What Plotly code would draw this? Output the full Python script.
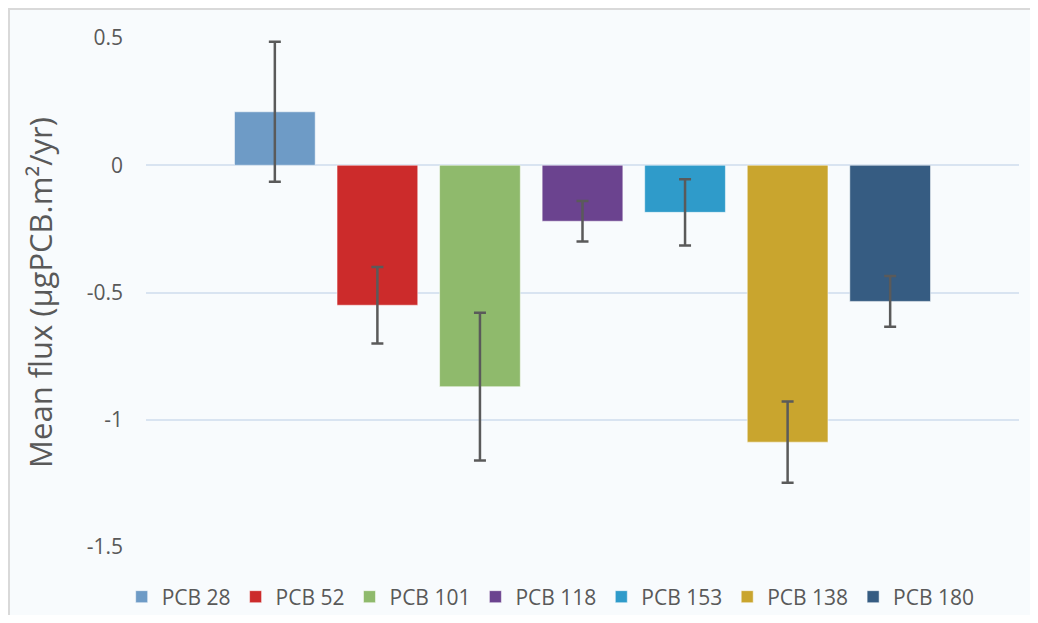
import plotly.graph_objects as go

# Data
series_names = ["PCB 28", "PCB 52", "PCB 101", "PCB 118", "PCB 153", "PCB 138", "PCB 180"]
mean_flux = [0.21, -0.55, -0.87, -0.22, -0.185, -1.088, -0.535]
error_vals = [0.275, 0.15, 0.29, 0.08, 0.13, 0.16, 0.10]
colors = ["#6e9bc6", "#cc2b2b", "#8fba6c", "#6b438f", "#2f9bca", "#c9a52e", "#365c82"]
category = [""]

y_ticks = [-1.5, -1, -0.5, 0, 0.5]
y_ticktext = ["-1.5", "-1", "-0.5", "0", "0.5"]

# page body adds an 8px offset; size figure accordingly
W, H = 1022, 607
ml, mr, mt, mb = 138, 11, 30, 68
pw = W - ml - mr
ph = H - mt - mb

fig = go.Figure()
for name, v, e, c in zip(series_names, mean_flux, error_vals, colors):
    fig.add_trace(go.Bar(
        x=category, y=[v], name=name,
        marker=dict(color=c, line=dict(color="rgba(255,255,255,0.5)", width=1)),
        error_y=dict(type="data", array=[e], visible=True, color="#5a5a5a",
                     thickness=2.5, width=6),
    ))

bg = "#f8fbfd"
fig.update_layout(
    width=W, height=H,
    margin=dict(l=ml, r=mr, t=mt, b=mb, autoexpand=False),
    paper_bgcolor=bg, plot_bgcolor=bg,
    barmode="group", bargap=0.1777, bargroupgap=0.213,
    font=dict(family="Open Sans, sans-serif", color="#595959"),
    showlegend=True,
    legend=dict(orientation="h", xref="container", x=0.531, xanchor="center",
                y=-0.058, yanchor="top",
                font=dict(size=21, color="#595959"), bgcolor="rgba(0,0,0,0)",
                itemwidth=30, traceorder="normal"),
    xaxis=dict(showticklabels=False, showgrid=False, zeroline=False, showline=False,
               ticks=""),
    yaxis=dict(range=[-1.5, 0.5], tickvals=y_ticks, ticktext=y_ticktext,
               showgrid=True, gridcolor="#d9e4f1", gridwidth=2, zeroline=False,
               showline=False, ticks="", ticklabelstandoff=22,
               tickfont=dict(size=21, color="#595959"),
               title=dict(text="Mean flux (µgPCB.m²/yr)", font=dict(size=31, color="#595959"),
                          standoff=24)),
    shapes=[dict(type="rect", xref="paper", yref="paper",
                 x0=(1 - ml) / pw, x1=(W + 20 - ml) / pw,
                 y0=-(H + 20 - mt - ph) / ph, y1=1 + (mt - 1) / ph,
                 line=dict(color="#d9d9d9", width=2), fillcolor="rgba(0,0,0,0)",
                 layer="below")],
)

fig.write_html("out.html")
